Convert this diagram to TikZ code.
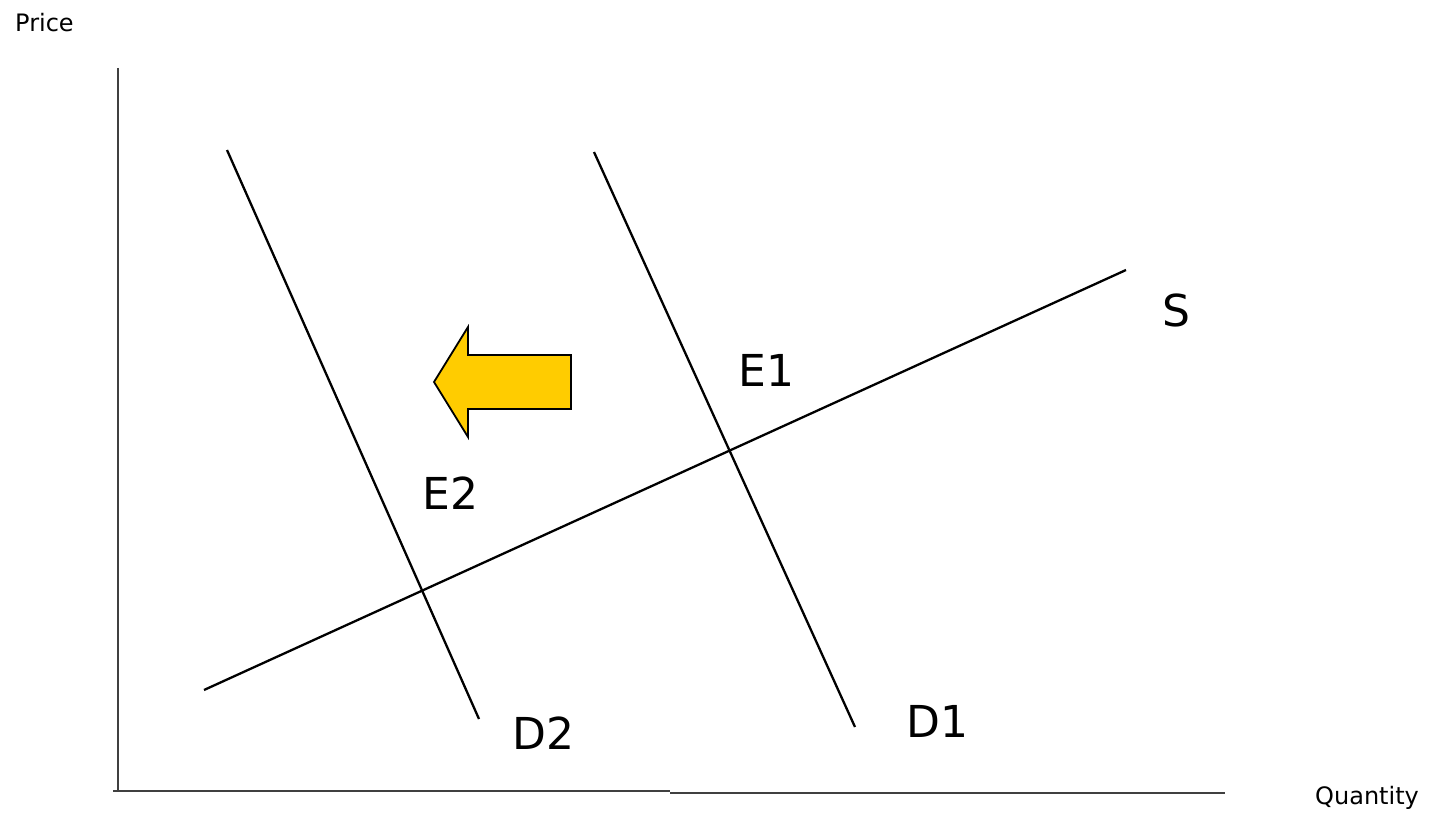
\documentclass[tikz,border=0pt]{standalone}
\usepackage{fontspec}
\setmainfont{DejaVu Sans}
\definecolor{arrowyellow}{HTML}{FFCC00}
\begin{document}
\begin{tikzpicture}[x=1pt,y=-1pt,
  curve/.style={line width=2.3pt,black},
  axis/.style={line width=2pt,black!75},
  biglabel/.style={anchor=base west,inner sep=0pt,font=\fontsize{44}{50}\selectfont},
  axlabel/.style={anchor=base west,inner sep=0pt,font=\fontsize{24}{28}\selectfont}]
\useasboundingbox (0,0) rectangle (1435,813);
% axes
\coordinate (yt) at (118,68);
\coordinate (o) at (118,791);
\coordinate (xa) at (113,791);
\coordinate (xm1) at (670,791);
\coordinate (xm2) at (670,793);
\coordinate (xe) at (1225,793);
\draw[axis] (yt) -- (o);
\draw[axis] (xa) -- (xm1);
\draw[axis] (xm2) -- (xe);
% curves
\coordinate (s1) at (204,690);
\coordinate (s2) at (1126,270);
\coordinate (d2a) at (227,150);
\coordinate (d2b) at (479,719);
\coordinate (d1a) at (594,152);
\coordinate (d1b) at (855,727);
\draw[curve] (s1) -- (s2);
\draw[curve] (d2a) -- (d2b);
\draw[curve] (d1a) -- (d1b);
% shift arrow
\draw[line width=1.8pt,fill=arrowyellow,line join=miter]
  (434,382) -- (468,327) -- (468,355) -- (571,355) -- (571,409) -- (468,409) -- (468,437) -- cycle;
% labels
\node[axlabel] (price) at (15,32) {Price};
\node[axlabel] (qty) at (1315,804) {Quantity};
\node[biglabel] (S) at (1162,326) {S};
\node[biglabel] (E1) at (738,386) {E1};
\node[biglabel] (E2) at (422,509) {E2};
\node[biglabel] (D2) at (512,749) {D2};
\node[biglabel] (D1) at (906,737) {D1};
\end{tikzpicture}
\end{document}
